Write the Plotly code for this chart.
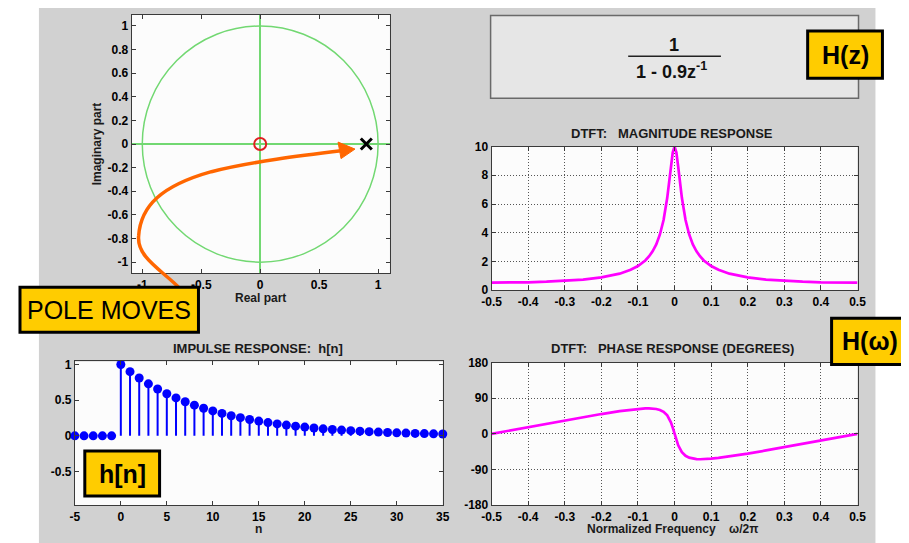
import plotly.graph_objects as go

W, H = 909, 543
# observed mapping of the photographed page: shown = S * figure_px + O
SX, SY, O = 0.982, 0.970, 16.0
FONT = "Liberation Sans, Arial, sans-serif"

# ---------------- data ----------------
zero_re = [0.0]
zero_im = [0.0]
pole_re = [0.9]
pole_im = [0.0]

n_idx = list(range(-5, 36))
h_vals = [0, 0, 0, 0, 0,
          1.000, 0.900, 0.810, 0.729, 0.656, 0.590, 0.531, 0.478, 0.430, 0.387,
          0.349, 0.314, 0.282, 0.254, 0.229, 0.206, 0.185, 0.167, 0.150, 0.135,
          0.122, 0.109, 0.098, 0.089, 0.080, 0.072, 0.065, 0.058, 0.052, 0.047,
          0.042, 0.038, 0.034, 0.031, 0.028, 0.025]

freq = [-0.5, -0.45, -0.4, -0.35, -0.3, -0.25, -0.2, -0.15, -0.12, -0.1, -0.08,
        -0.07, -0.06, -0.05, -0.04, -0.03, -0.02, -0.01, -0.005, 0.0,
        0.005, 0.01, 0.02, 0.03, 0.04, 0.05, 0.06, 0.07, 0.08, 0.1, 0.12,
        0.15, 0.2, 0.25, 0.3, 0.35, 0.4, 0.45, 0.5]
mag = [0.53, 0.53, 0.55, 0.59, 0.65, 0.74, 0.89, 1.15, 1.42, 1.68, 2.07,
       2.35, 2.71, 3.19, 3.88, 4.89, 6.43, 8.59, 9.58, 10.0,
       9.58, 8.59, 6.43, 4.89, 3.88, 3.19, 2.71, 2.35, 2.07, 1.68, 1.42,
       1.15, 0.89, 0.74, 0.65, 0.59, 0.55, 0.53, 0.53]
phase = [0.0, 8.5, 17.0, 25.5, 33.8, 42.0, 49.9, 57.1, 60.8, 62.8, 64.0,
         64.2, 63.8, 62.6, 60.2, 55.5, 46.5, 29.1, 15.7, 0.0,
         -15.7, -29.1, -46.5, -55.5, -60.2, -62.6, -63.8, -64.2, -64.0, -62.8, -60.8,
         -57.1, -49.9, -42.0, -33.8, -25.5, -17.0, -8.5, 0.0]

pz_xticks = [-1, -0.5, 0, 0.5, 1]
pz_xtext = ["-1", "-0.5", "0", "0.5", "1"]
pz_yticks = [-1, -0.8, -0.6, -0.4, -0.2, 0, 0.2, 0.4, 0.6, 0.8, 1]
pz_ytext = ["-1", "-0.8", "-0.6", "-0.4", "-0.2", "0", "0.2", "0.4", "0.6", "0.8", "1"]
f_ticks = [-0.5, -0.4, -0.3, -0.2, -0.1, 0, 0.1, 0.2, 0.3, 0.4, 0.5]
f_text = ["-0.5", "-0.4", "-0.3", "-0.2", "-0.1", "0", "0.1", "0.2", "0.3", "0.4", "0.5"]
mag_ticks = [0, 2, 4, 6, 8, 10]
ph_ticks = [-180, -90, 0, 90, 180]
ph_text = ["-180", "-90", "0", "90", "180"]
n_ticks = [-5, 0, 5, 10, 15, 20, 25, 30, 35]
n_text = ["-5", "0", "5", "10", "15", "20", "25", "30", "35"]
h_ticks = [-0.5, 0, 0.5, 1]
h_text = ["-0.5", "0", "0.5", "1"]


def PX(x):
    return ((x - O) / SX) / W


def PY(y):
    return 1 - ((y - O) / SY) / H


fig = go.Figure()

# pole-zero plot
fig.add_trace(go.Scatter(x=zero_re, y=zero_im, mode="markers", xaxis="x", yaxis="y",
                         marker=dict(symbol="circle-open", size=12, color="#e02020",
                                     line=dict(width=2, color="#e02020")),
                         showlegend=False, cliponaxis=False))
fig.add_trace(go.Scatter(x=pole_re, y=pole_im, mode="markers", xaxis="x", yaxis="y",
                         marker=dict(symbol="x-thin-open", size=11, color="black",
                                     line=dict(width=3, color="black")),
                         showlegend=False, cliponaxis=False))

# magnitude
fig.add_trace(go.Scatter(x=freq, y=mag, mode="lines", xaxis="x2", yaxis="y2",
                         line=dict(color="#ff00ff", width=2.7), showlegend=False))
# phase
fig.add_trace(go.Scatter(x=freq, y=phase, mode="lines", xaxis="x3", yaxis="y3",
                         line=dict(color="#ff00ff", width=2.7), showlegend=False))

# impulse response stems
sx, sy = [], []
for n, h in zip(n_idx, h_vals):
    if h != 0:
        sx += [n, n, None]
        sy += [0, h, None]
fig.add_trace(go.Scatter(x=sx, y=sy, mode="lines", xaxis="x4", yaxis="y4",
                         line=dict(color="#0000ff", width=2), showlegend=False))
fig.add_trace(go.Scatter(x=n_idx, y=h_vals, mode="markers", xaxis="x4", yaxis="y4",
                         marker=dict(color="#0000ff", size=9), showlegend=False,
                         cliponaxis=False))

common = dict(showline=True, linecolor="#3a3a3a", linewidth=1, mirror="ticks",
              ticks="inside", ticklen=4, tickcolor="#3a3a3a",
              tickfont=dict(family=FONT, size=12, color="black", weight="bold"),
              showgrid=False, zeroline=False, fixedrange=True, tickmode="array")
grid = dict(showgrid=True, gridcolor="#555555", griddash="1px,2px", gridwidth=1)

fig.update_layout(
    width=W, height=H, margin=dict(l=0, r=0, t=0, b=0),
    paper_bgcolor="#d1d1d1", plot_bgcolor="#fcfcfc",
    xaxis=dict(common, domain=[PX(130), PX(389)], range=[-1.09, 1.1], anchor="y",
               tickvals=pz_xticks, ticktext=pz_xtext,
               zeroline=True, zerolinecolor="#72d872", zerolinewidth=1.5),
    yaxis=dict(common, domain=[PY(273), min(1.0, PY(14))], range=[-1.093, 1.093], anchor="x",
               tickvals=pz_yticks, ticktext=pz_ytext,
               zeroline=True, zerolinecolor="#72d872", zerolinewidth=1.5),
    xaxis2=dict(common, **grid, domain=[PX(491), PX(858)], range=[-0.5, 0.5], anchor="y2",
                tickvals=f_ticks, ticktext=f_text),
    yaxis2=dict(common, **grid, domain=[PY(290), PY(147)], range=[0, 10], anchor="x2",
                tickvals=mag_ticks),
    xaxis3=dict(common, **grid, domain=[PX(491), PX(858)], range=[-0.5, 0.5], anchor="y3",
                tickvals=f_ticks, ticktext=f_text),
    yaxis3=dict(common, **grid, domain=[PY(504), PY(362)], range=[-180, 180], anchor="x3",
                tickvals=ph_ticks, ticktext=ph_text),
    xaxis4=dict(common, domain=[PX(73), PX(442)], range=[-5, 35], anchor="y4",
                tickvals=n_ticks, ticktext=n_text),
    yaxis4=dict(common, domain=[PY(504), PY(361)], range=[-0.972, 1.042], anchor="x4",
                tickvals=h_ticks, ticktext=h_text),
)

shapes = []
# white strips outside the gray panel
shapes.append(dict(type="rect", xref="paper", yref="paper", x0=-0.05, x1=PX(37), y0=-0.05, y1=1.05,
                   fillcolor="white", line=dict(width=0), layer="below"))
shapes.append(dict(type="rect", xref="paper", yref="paper", x0=PX(876), x1=1.05, y0=-0.05, y1=1.05,
                   fillcolor="white", line=dict(width=0), layer="below"))
# formula box
shapes.append(dict(type="rect", xref="paper", yref="paper", x0=PX(490), x1=PX(859),
                   y0=PY(99), y1=min(0.999, PY(14)), fillcolor="#e6e6e6",
                   line=dict(color="#6a6a6a", width=1.5)))
shapes.append(dict(type="line", xref="paper", yref="paper", x0=PX(628), x1=PX(721),
                   y0=PY(57), y1=PY(57), line=dict(color="#222222", width=1.5)))
# unit circle
shapes.append(dict(type="circle", xref="x", yref="y", x0=-1, x1=1, y0=-1, y1=1,
                   line=dict(color="#72d872", width=1.5), layer="above"))


def P(x, y):
    return "{:.5f},{:.5f}".format(PX(x), PY(y))


# orange curved arrow (smooth cubic path)
path = ("M " + P(177, 287) +
        " C " + P(160, 270) + " " + P(135, 257) + " " + P(137, 236) +
        " C " + P(139, 206) + " " + P(160, 186) + " " + P(210, 172) +
        " C " + P(250, 162) + " " + P(300, 156) + " " + P(342, 151))
shapes.append(dict(type="path", xref="paper", yref="paper", path=path,
                   line=dict(color="#ff6600", width=3.5)))
hp = "M " + P(337, 142.5) + " L " + P(354, 149.5) + " L " + P(340, 159) + " Z"
shapes.append(dict(type="path", xref="paper", yref="paper", path=hp,
                   fillcolor="#ff6600", line=dict(color="#ff6600", width=1)))

# yellow label boxes
boxes = [(808, 32, 883, 79), (832, 318, 922, 364), (83, 450, 158, 495), (18, 287, 197, 332)]
for (x0, y0, x1, y1) in boxes:
    shapes.append(dict(type="rect", xref="paper", yref="paper", x0=PX(x0), x1=PX(x1),
                       y0=PY(y1), y1=PY(y0), fillcolor="#ffcc00",
                       line=dict(color="black", width=3)))
fig.update_layout(shapes=shapes)


def txt(x, y, s, size=13, bold=True, angle=0, color="#1a1a1a"):
    fig.add_annotation(x=PX(x), y=PY(y), xref="paper", yref="paper", text=s,
                       showarrow=False, textangle=angle, xanchor="center", yanchor="middle",
                       font=dict(family=FONT, size=size, color=color,
                                 weight="bold" if bold else "normal"))


txt(259, 298, "Real part", size=12)
txt(95, 144, "Imaginary part", size=12, angle=-90)
txt(672, 134, "DTFT:   MAGNITUDE RESPONSE")
txt(672, 348, "DTFT:   PHASE RESPONSE (DEGREES)")
txt(672, 528, "Normalized Frequency    \u03c9/2\u03c0", size=12)
txt(257, 348, "IMPULSE RESPONSE:  h[n]")
txt(257, 528, "n", size=12)
txt(674, 46, "1", size=18, color="#111111")
txt(671, 71, "1 - 0.9z<sup>-1</sup>", size=18, color="#111111")
txt(845.5, 56, "H(z)", size=25, color="black")
txt(871, 341, "H(\u03c9)", size=25, color="black")
txt(120.5, 473, "h[n]", size=25, color="black")
txt(107.5, 310, "POLE MOVES", size=25, bold=False, color="black")

fig.write_html("out.html")
